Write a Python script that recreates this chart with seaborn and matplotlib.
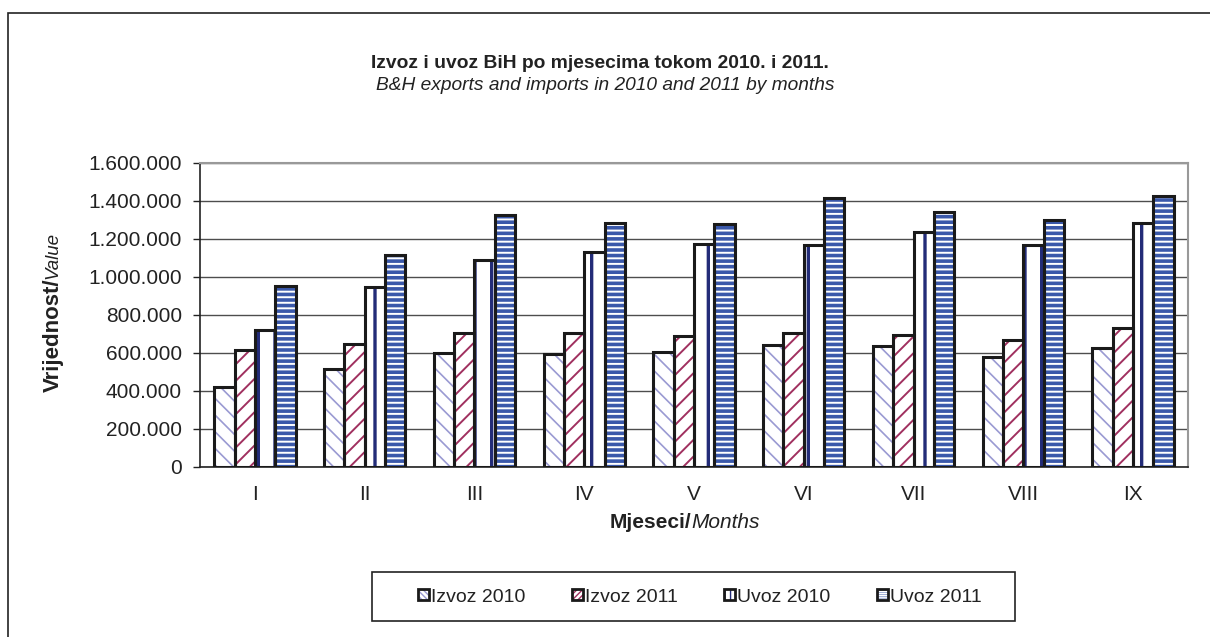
import numpy as np
import pandas as pd
import matplotlib
matplotlib.use('Agg')
import matplotlib.pyplot as plt
import seaborn as sns
from matplotlib.patches import Patch, Rectangle
from matplotlib.ticker import FuncFormatter, FixedLocator

# data (thousands of KM)
months = ['I', 'II', 'III', 'IV', 'V', 'VI', 'VII', 'VIII', 'IX']
izvoz_2010 = [421000, 516000, 600000, 595000, 605000, 640000, 635000, 579000, 626000]
izvoz_2011 = [616000, 647000, 705000, 705000, 690000, 705000, 695000, 668000, 732000]
uvoz_2010 = [721000, 947000, 1090000, 1130000, 1175000, 1170000, 1237000, 1168000, 1284000]
uvoz_2011 = [953000, 1116000, 1325000, 1285000, 1280000, 1415000, 1342000, 1300000, 1426000]
series = ['Izvoz 2010', 'Izvoz 2011', 'Uvoz 2010', 'Uvoz 2011']

df = pd.DataFrame({
    'mjesec': months * 4,
    'serija': np.repeat(series, len(months)),
    'vrijednost': izvoz_2010 + izvoz_2011 + uvoz_2010 + uvoz_2011,
})

sns.set_style('white')
plt.rcParams['font.family'] = ['Liberation Sans', 'DejaVu Sans']

# facecolor, hatch, hatch colour, hatch width
styles = {
    'Izvoz 2010': ('white', '\\\\', '#9a9ad2', 1.2),
    'Izvoz 2011': ('white', '//', '#a0305f', 1.4),
    'Uvoz 2010': ('white', '|', '#232c78', 2.4),
    'Uvoz 2011': ('#3a58aa', '---', 'white', 1.4),
}
TXT = '#222222'

W, H = 1210, 637
fig = plt.figure(figsize=(W / 100, H / 100), dpi=100)
ax = fig.add_axes([200 / W, (H - 467) / H, 988 / W, 304 / H])

sns.barplot(data=df, x='mjesec', y='vrijednost', hue='serija', hue_order=series,
            order=months, width=0.74, gap=0, legend=False, ax=ax,
            palette=['white'] * 4, saturation=1, errorbar=None)

for name, cont in zip(series, ax.containers):
    fc, hatch, hc, hlw = styles[name]
    for p in cont.patches:
        p.set_facecolor(fc)
        p.set_edgecolor(hc)
        p.set_linewidth(0)
        p.set_hatch(hatch)
        if hasattr(p, 'set_hatch_linewidth'):
            p.set_hatch_linewidth(hlw)
        ax.add_patch(Rectangle(p.get_xy(), p.get_width(), p.get_height(),
                               fill=False, edgecolor='#1a1a1a', linewidth=2.2, zorder=3))

ax.set_ylim(0, 1600000)
ax.set_xlim(-0.5, len(months) - 0.5)
ax.yaxis.set_major_locator(FixedLocator(np.arange(0, 1600001, 200000)))
ax.yaxis.set_major_formatter(FuncFormatter(lambda v, _: f'{int(v):,}'.replace(',', '.')))
ax.grid(axis='y', color='#4d4d4d', linewidth=1)
ax.set_axisbelow(True)

# ticks between categories, labels at centres
ax.set_xticks(np.arange(-0.5, len(months), 1.0))
ax.set_xticklabels([])
ax.set_xticks(np.arange(len(months)), minor=True)
ax.set_xticklabels(months, minor=True)
ax.tick_params(axis='x', which='major', length=6, width=1, color=TXT, direction='out')
ax.tick_params(axis='x', which='minor', length=0, pad=13, labelsize=15, labelcolor=TXT)
ax.tick_params(axis='y', length=5, width=1, color=TXT, direction='out', pad=8,
               labelsize=15, labelcolor=TXT, left=True)

for s in ['left', 'bottom']:
    ax.spines[s].set_color(TXT)
    ax.spines[s].set_linewidth(1.2)
for s in ['right', 'top']:
    ax.spines[s].set_color('#999999')
    ax.spines[s].set_linewidth(1.5)
ax.set_xlabel('')
ax.set_ylabel('')

# titles
fig.text(600 / W, 1 - 64 / H, 'Izvoz i uvoz BiH po mjesecima tokom 2010. i 2011.',
         ha='center', va='center', fontsize=13.9, fontweight='bold', color=TXT)
fig.text(605 / W, 1 - 86 / H, 'B&H exports and imports in 2010 and 2011 by months',
         ha='center', va='center', fontsize=13.8, style='italic', color=TXT)

# axis labels, bold + italic halves
fig.text(691 / W, 1 - 523 / H, 'Mjeseci/', ha='right', va='center', fontsize=15,
         fontweight='bold', color=TXT)
fig.text(691 / W, 1 - 523 / H, 'Months', ha='left', va='center', fontsize=15,
         style='italic', color=TXT)
fig.text(53 / W, 1 - 279 / H, 'Vrijednost/', ha='right', va='center', fontsize=16,
         fontweight='bold', rotation=90, rotation_mode='anchor', color=TXT)
fig.text(53 / W, 1 - 279 / H, 'Value', ha='left', va='center', fontsize=13.5,
         style='italic', rotation=90, rotation_mode='anchor', color=TXT)

# legend: small swatches need a denser hatch to show the pattern
handles = []
for name in series:
    fc, hatch, hc, hlw = styles[name]
    handles.append((Patch(facecolor=fc, edgecolor=hc, hatch=hatch * 3, linewidth=0),
                    Patch(fill=False, edgecolor='#1a1a1a', linewidth=2)))
leg = fig.legend(handles, series, loc='center', bbox_to_anchor=(700 / W, 1 - 597 / H),
                 ncol=4, fontsize=14, frameon=False, borderpad=0,
                 handlelength=0.55, handleheight=0.55, handletextpad=0.12,
                 columnspacing=2.4, borderaxespad=0)
for t in leg.get_texts():
    t.set_color(TXT)
fig.add_artist(Rectangle((372 / W, 1 - 621 / H), 643 / W, 49 / H, transform=fig.transFigure,
                         fill=False, edgecolor=TXT, linewidth=1.2))

# outer frame of the chart area
fig.add_artist(Rectangle((8 / W, -0.1), 1.2, 1.1 - 13 / H, transform=fig.transFigure,
                         fill=False, edgecolor=TXT, linewidth=1.2))

fig.savefig('out.png', dpi=100)
